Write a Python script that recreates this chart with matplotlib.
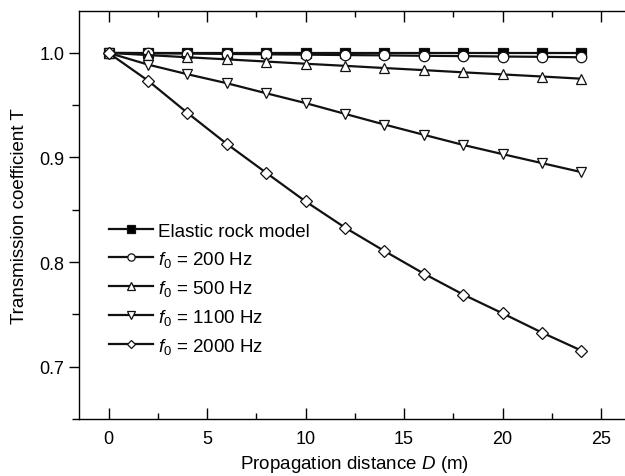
import numpy as np
import matplotlib
matplotlib.use('Agg')
import matplotlib.pyplot as plt
from matplotlib.ticker import MultipleLocator

plt.rcParams['font.family'] = ['Liberation Sans', 'DejaVu Sans']
plt.rcParams['mathtext.fontset'] = 'custom'
plt.rcParams['mathtext.rm'] = 'Liberation Sans'
plt.rcParams['mathtext.it'] = 'Liberation Sans:italic'

distance = [0, 2, 4, 6, 8, 10, 12, 14, 16, 18, 20, 22, 24]
elastic = [1.0, 1.0, 1.0, 1.0, 1.0, 1.0, 1.0, 1.0, 1.0, 1.0, 1.0, 1.0, 1.0]
f200 = [1.0, 0.9997, 0.9993, 0.9990, 0.9986, 0.9983, 0.9979, 0.9976, 0.9972, 0.9969, 0.9965, 0.9962, 0.9958]
f500 = [1.0, 0.9979, 0.9958, 0.9938, 0.9917, 0.9896, 0.9876, 0.9855, 0.9835, 0.9814, 0.9794, 0.9774, 0.9753]
f1100 = [1.0, 0.9888, 0.9796, 0.9710, 0.9614, 0.9520, 0.9417, 0.9315, 0.9217, 0.9120, 0.9032, 0.8946, 0.8860]
f2000 = [1.0, 0.9735, 0.9427, 0.9130, 0.8854, 0.8580, 0.8330, 0.8106, 0.7890, 0.7690, 0.7510, 0.7326, 0.7154]

series = [
    (elastic, 's', 'k', 'Elastic rock model'),
    (f200, 'o', 'white', r'$f_{0}$ = 200 Hz'),
    (f500, '^', 'white', r'$f_{0}$ = 500 Hz'),
    (f1100, 'v', 'white', r'$f_{0}$ = 1100 Hz'),
    (f2000, 'D', 'white', r'$f_{0}$ = 2000 Hz'),
]

fig = plt.figure(figsize=(6.25, 4.77), dpi=100)
ax = fig.add_axes([0.1264, 0.1195, 0.8826, 0.8553])

for vals, mk, fc, lab in series:
    ms = 6.5 if mk == 'D' else 7.5
    ax.plot(distance, vals, color='#111111', lw=1.6, marker=mk, ms=ms,
            mfc=fc, mec='#111111', mew=0.9, label=lab)

ax.set_xlim(-1.5, 26.5)
ax.set_ylim(0.65, 1.04)
ax.xaxis.set_major_locator(MultipleLocator(5))
ax.xaxis.set_minor_locator(MultipleLocator(2.5))
ax.yaxis.set_major_locator(MultipleLocator(0.1))
ax.yaxis.set_minor_locator(MultipleLocator(0.05))
ax.yaxis.set_major_formatter(matplotlib.ticker.FormatStrFormatter('%.1f'))

ax.tick_params(axis='x', which='major', direction='in', length=8, width=1, labelsize=13, pad=8)
ax.tick_params(axis='x', which='minor', direction='in', length=4, width=1)
ax.tick_params(axis='x', which='both', top=True)
ax.tick_params(axis='y', which='major', direction='out', length=7, width=1, labelsize=13)
ax.tick_params(axis='y', which='minor', direction='out', length=5, width=1)
for sp in ax.spines.values():
    sp.set_linewidth(1.0)
# the right edge of the frame is cut off in the original
ax.spines['right'].set_visible(False)

ax.set_xlabel('Propagation distance $D$ (m)', fontsize=13.5, labelpad=4)
ax.set_ylabel('Transmission coefficient T', fontsize=13.5, labelpad=8)

ax.legend(loc='upper left', bbox_to_anchor=(0.04, 0.50), frameon=False, fontsize=13.5,
          markerscale=0.7, handlelength=2.35, handletextpad=0.3, labelspacing=0.48,
          borderaxespad=0)

fig.savefig('out.png', dpi=100)
